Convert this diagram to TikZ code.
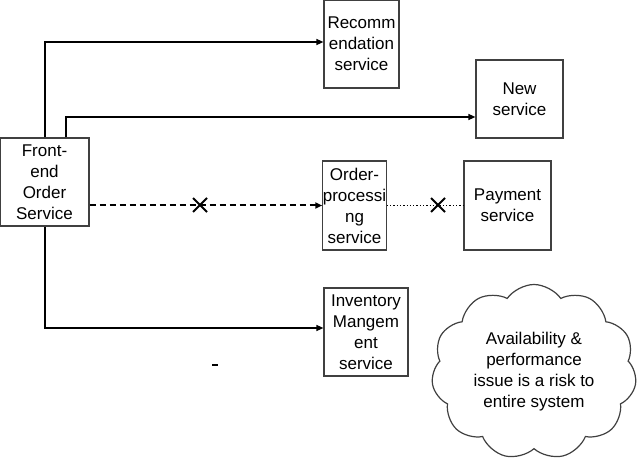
\documentclass[tikz,border=0pt]{standalone}
\usepackage{fontspec}
\setmainfont{Liberation Sans}
\usetikzlibrary{shapes.symbols,arrows.meta}
\begin{document}
\begin{tikzpicture}[x=1pt,y=-1pt,
  box/.style={draw=black!75,line width=1.2pt,align=center,font=\fontsize{17}{21}\selectfont,inner sep=0pt},
  conn/.style={line width=1.3pt,-{Triangle[length=7pt,width=6pt]}},
  cross/.style={line width=1.8pt}]
\useasboundingbox (0,0) rectangle (640,470);
\node[box,minimum width=89,minimum height=88] (fe) at (44.5,182) {Front-\\end\\Order\\Service};
\node[box,minimum width=75,minimum height=88] (rec) at (361.5,44) {Recomm\\endation\\service};
\node[box,minimum width=87,minimum height=78] (new) at (519.5,99) {New\\service};
\node[box,minimum width=61,minimum height=89] (op) at (354.5,205.5) {Order-\\processi\\ng\\service};
\node[box,minimum width=87,minimum height=89] (pay) at (507.5,205.5) {Payment\\service};
\node[box,minimum width=84,minimum height=88] (inv) at (366,332) {Inventory\\Mangem\\ent\\service};
\node[cloud,draw=black!75,line width=1.2pt,cloud puffs=11,cloud puff arc=110,aspect=1.2,minimum width=205,minimum height=175,align=center,font=\fontsize{17}{21}\selectfont,inner sep=0pt] (cl) at (534,372) {Availability \&\\performance\\issue is a risk to\\entire system};
\coordinate (a1) at (45,42);
\coordinate (a2) at (66,117);
\coordinate (a3) at (45,328);
\draw[conn] (fe.north west -| a1) -- (a1) -- (rec.west |- a1);
\draw[conn] (fe.north west -| a2) -- (a2) -- (new.west |- a2);
\draw[conn] (fe.south west -| a3) -- (a3) -- (inv.west |- a3);
\draw[conn,line width=2pt,dash pattern=on 6pt off 4pt] (fe.east |- op.west) -- (op.west);
\draw[line width=1.3pt,dotted] (op.east) -- (pay.west);
\coordinate (x1) at (200,205);
\coordinate (x2) at (438,205);
\foreach \c in {x1,x2}{
  \draw[cross] ([shift={(-7,-7)}]\c) -- ([shift={(7,7)}]\c);
  \draw[cross] ([shift={(-7,7)}]\c) -- ([shift={(7,-7)}]\c);}
\draw[line width=1.3pt] (212,365) -- (218,365);
\end{tikzpicture}
\end{document}
